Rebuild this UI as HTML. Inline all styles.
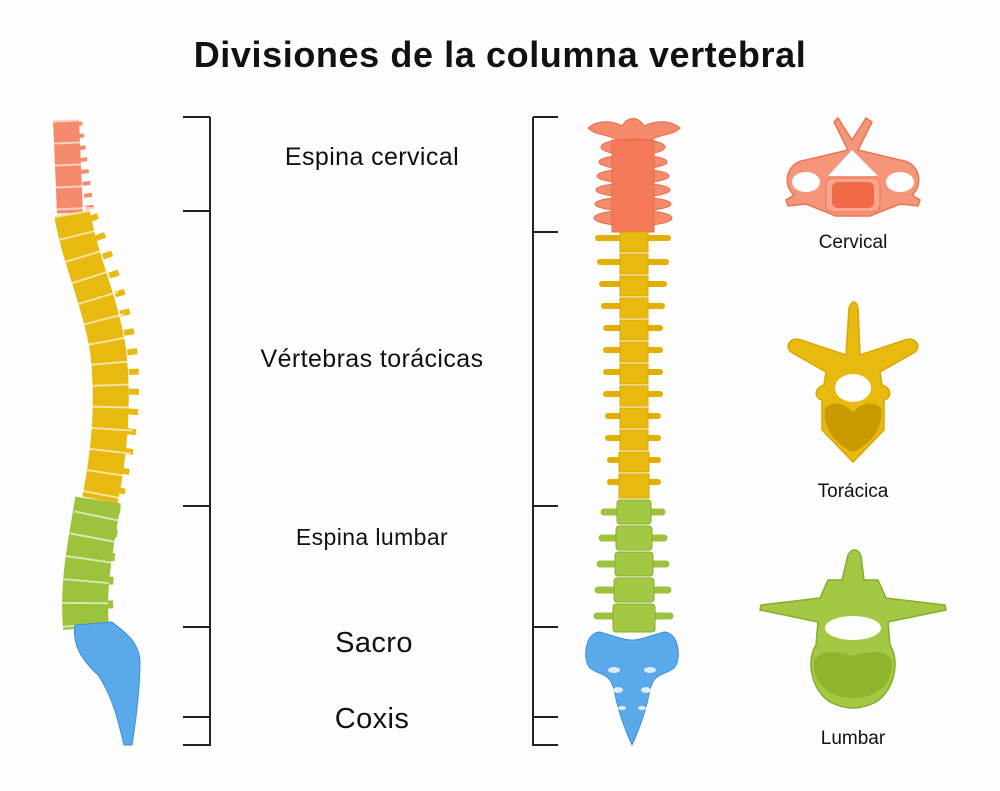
<!DOCTYPE html>
<html><head><meta charset="utf-8"><style>
body{margin:0;background:#fdfdfd;}
svg{display:block}
text{font-family:"Liberation Sans",sans-serif;fill:#111}
</style></head><body>
<svg width="1000" height="791" viewBox="0 0 1000 791" xmlns="http://www.w3.org/2000/svg">
<rect width="1000" height="791" fill="#fdfdfd"/>
<text x="500" y="67" font-size="36" font-weight="bold" text-anchor="middle" letter-spacing="0.6">Divisiones de la columna vertebral</text>

<!-- brackets -->
<g stroke="#222" stroke-width="2" fill="none">
<line x1="210" y1="117" x2="210" y2="746"/>
<line x1="183" y1="117" x2="210" y2="117"/><line x1="183" y1="211" x2="210" y2="211"/>
<line x1="183" y1="506" x2="210" y2="506"/><line x1="183" y1="627" x2="210" y2="627"/>
<line x1="183" y1="717" x2="210" y2="717"/><line x1="183" y1="745" x2="210" y2="745"/>
<line x1="533" y1="117" x2="533" y2="746"/>
<line x1="533" y1="117" x2="558" y2="117"/><line x1="533" y1="232" x2="558" y2="232"/>
<line x1="533" y1="506" x2="558" y2="506"/><line x1="533" y1="627" x2="558" y2="627"/>
<line x1="533" y1="717" x2="558" y2="717"/><line x1="533" y1="745" x2="558" y2="745"/>
</g>
<g font-size="25" text-anchor="middle" letter-spacing="0.4">
<text x="372" y="165">Espina cervical</text>
<text x="372" y="367">Vértebras torácicas</text>
<text x="372" y="545" font-size="23">Espina lumbar</text>
<text x="374" y="652" font-size="29">Sacro</text>
<text x="372" y="728" font-size="29">Coxis</text>
</g>

<!-- left side spine -->
<g fill="none" stroke-linecap="butt">
<path d="M66 120 L70 213" stroke="#f58b6c" stroke-width="26"/>
<path d="M78 122 L90 210" stroke="#f58b6c" stroke-width="8" stroke-dasharray="4 8"/>
<path d="M72 213 C80 260 100 300 108 350 C114 400 110 450 100 500" stroke="#e8b90e" stroke-width="36"/>
<path d="M92 215 C110 260 125 300 132 350 C138 400 130 450 118 500" stroke="#e8b90e" stroke-width="10" stroke-dasharray="6 14"/>
<path d="M98 500 C92 540 82 580 86 628" stroke="#9dc23c" stroke-width="46"/>
<path d="M115 505 C110 540 105 580 108 625" stroke="#9dc23c" stroke-width="12" stroke-dasharray="8 16"/>
<path d="M66 120 L70 213 M72 213 C80 260 100 300 108 350 C114 400 110 450 100 500 C92 540 82 580 86 628" stroke="#fff" stroke-width="46" stroke-dasharray="2 20" opacity="0.6"/>
</g>
<path d="M75 625 L112 622 C124 632 138 640 140 660 C140 690 136 720 132 745 L124 745 C118 720 112 695 98 675 C82 660 72 645 75 625Z" fill="#5aa9ea" stroke="#3d8fd6" stroke-width="1"/>

<!-- front spine: cervical -->
<g fill="#f58b6c" stroke="#e96c4c" stroke-width="1">
<path d="M588 128 C600 118 615 122 622 126 C628 116 638 116 644 126 C652 122 668 118 680 128 C672 136 660 134 650 140 L618 140 C608 134 596 136 588 128Z"/>
<ellipse cx="633" cy="147" rx="32" ry="8"/>
<ellipse cx="633" cy="162" rx="34" ry="7"/>
<ellipse cx="633" cy="176" rx="36" ry="7"/>
<ellipse cx="633" cy="190" rx="37" ry="7"/>
<ellipse cx="633" cy="204" rx="38" ry="7"/>
<ellipse cx="633" cy="218" rx="39" ry="8"/>
<rect x="612" y="140" width="42" height="92" fill="#f47a5a"/>
</g>
<!-- thoracic -->
<g stroke="#e2ae00" stroke-width="6" stroke-linecap="round">
<line x1="598" y1="238" x2="668" y2="238"/><line x1="600" y1="262" x2="666" y2="262"/>
<line x1="602" y1="284" x2="664" y2="284"/><line x1="604" y1="306" x2="662" y2="306"/>
<line x1="606" y1="328" x2="660" y2="328"/><line x1="606" y1="350" x2="660" y2="350"/>
<line x1="606" y1="372" x2="660" y2="372"/><line x1="606" y1="394" x2="660" y2="394"/>
<line x1="608" y1="416" x2="658" y2="416"/><line x1="608" y1="438" x2="658" y2="438"/>
<line x1="610" y1="460" x2="658" y2="460"/><line x1="610" y1="482" x2="658" y2="482"/>
</g>
<g fill="#e8b90e" stroke="#d9a700" stroke-width="1">
<rect x="620" y="232" width="28" height="20"/><rect x="620" y="254" width="28" height="20"/>
<rect x="620" y="276" width="28" height="20"/><rect x="620" y="298" width="28" height="20"/>
<rect x="620" y="320" width="28" height="20"/><rect x="620" y="342" width="28" height="20"/>
<rect x="620" y="364" width="28" height="20"/><rect x="620" y="386" width="28" height="20"/>
<rect x="620" y="408" width="28" height="20"/><rect x="620" y="430" width="28" height="20"/>
<rect x="619" y="452" width="30" height="20"/><rect x="619" y="474" width="30" height="24"/>
</g>
<!-- lumbar -->
<g stroke="#9dc23c" stroke-width="7" stroke-linecap="round">
<line x1="604" y1="512" x2="662" y2="512"/><line x1="602" y1="538" x2="664" y2="538"/>
<line x1="600" y1="564" x2="666" y2="564"/><line x1="598" y1="590" x2="668" y2="590"/>
<line x1="597" y1="616" x2="670" y2="616"/>
</g>
<g fill="#a3c843" stroke="#86ad2a" stroke-width="1">
<rect x="617" y="500" width="34" height="24" rx="3"/><rect x="616" y="526" width="36" height="24" rx="3"/>
<rect x="615" y="552" width="38" height="24" rx="3"/><rect x="614" y="578" width="40" height="24" rx="3"/>
<rect x="613" y="604" width="42" height="28" rx="3"/>
</g>
<!-- sacrum -->
<path d="M600 632 C585 632 582 660 590 668 C600 676 610 672 614 690 C618 710 625 730 632 745 C639 730 646 710 650 690 C654 672 664 676 674 668 C682 660 679 632 664 632 C650 636 640 640 632 640 C624 640 614 636 600 632Z" fill="#5aa9ea" stroke="#3d8fd6" stroke-width="1"/>
<g fill="#fff" opacity="0.8"><ellipse cx="614" cy="670" rx="6" ry="3"/><ellipse cx="650" cy="670" rx="6" ry="3"/><ellipse cx="618" cy="690" rx="5" ry="3"/><ellipse cx="646" cy="690" rx="5" ry="3"/><ellipse cx="622" cy="708" rx="4" ry="2"/><ellipse cx="642" cy="708" rx="4" ry="2"/></g>

<!-- cervical vertebra icon -->
<g fill="#f5957a" stroke="#e9764f" stroke-width="1.5">
<path d="M838 118 L852 140 L866 118 L872 122 L858 150 L900 160 C920 162 924 185 912 195 L920 200 L918 206 L900 204 L870 216 L836 216 L806 204 L788 206 L786 200 L794 195 C782 185 786 162 806 160 L848 150 L834 122Z"/>
</g>
<ellipse cx="806" cy="182" rx="14" ry="10" fill="#fdfdfd"/><ellipse cx="900" cy="182" rx="14" ry="10" fill="#fdfdfd"/>
<rect x="826" y="178" width="54" height="34" rx="7" fill="#f7a58c" stroke="#e9764f"/>
<rect x="832" y="182" width="42" height="26" rx="6" fill="#f06a48"/>
<path d="M828 176 L852 150 L878 176Z" fill="#fdfdfd"/>
<text x="853" y="248" font-size="19" text-anchor="middle">Cervical</text>

<!-- thoracic vertebra icon -->
<path d="M849 308 C852 300 856 300 858 308 L860 355 L905 340 C915 336 922 346 915 352 L880 372 L882 385 C892 388 892 398 884 400 L884 430 L853 462 L822 430 L822 400 C814 398 814 388 824 385 L826 372 L791 352 C784 346 791 336 801 340 L846 355Z" fill="#e8b90e" stroke="#d9a700" stroke-width="1.5"/>
<ellipse cx="853" cy="388" rx="18" ry="14" fill="#fdfdfd"/>
<path d="M825 408 C835 400 845 404 853 412 C861 404 871 400 881 408 C884 428 870 445 853 452 C836 445 822 428 825 408Z" fill="#c99a00"/>
<text x="853" y="497" font-size="19" text-anchor="middle">Torácica</text>

<!-- lumbar vertebra icon -->
<path d="M848 555 C852 548 858 548 861 556 L864 580 L878 580 L886 598 L945 605 L946 610 L888 622 L890 645 C900 660 895 690 876 702 C860 710 846 710 830 702 C811 690 806 660 816 645 L818 622 L760 610 L761 605 L820 598 L828 580 L842 580Z" fill="#a3c843" stroke="#86ad2a" stroke-width="1.5"/>
<ellipse cx="853" cy="628" rx="28" ry="12" fill="#fdfdfd"/>
<path d="M814 660 C822 648 840 652 853 656 C866 652 884 648 892 660 C894 685 875 698 853 698 C831 698 812 685 814 660Z" fill="#8fb52c"/>
<text x="853" y="744" font-size="19" text-anchor="middle">Lumbar</text>
</svg>
</body></html>
